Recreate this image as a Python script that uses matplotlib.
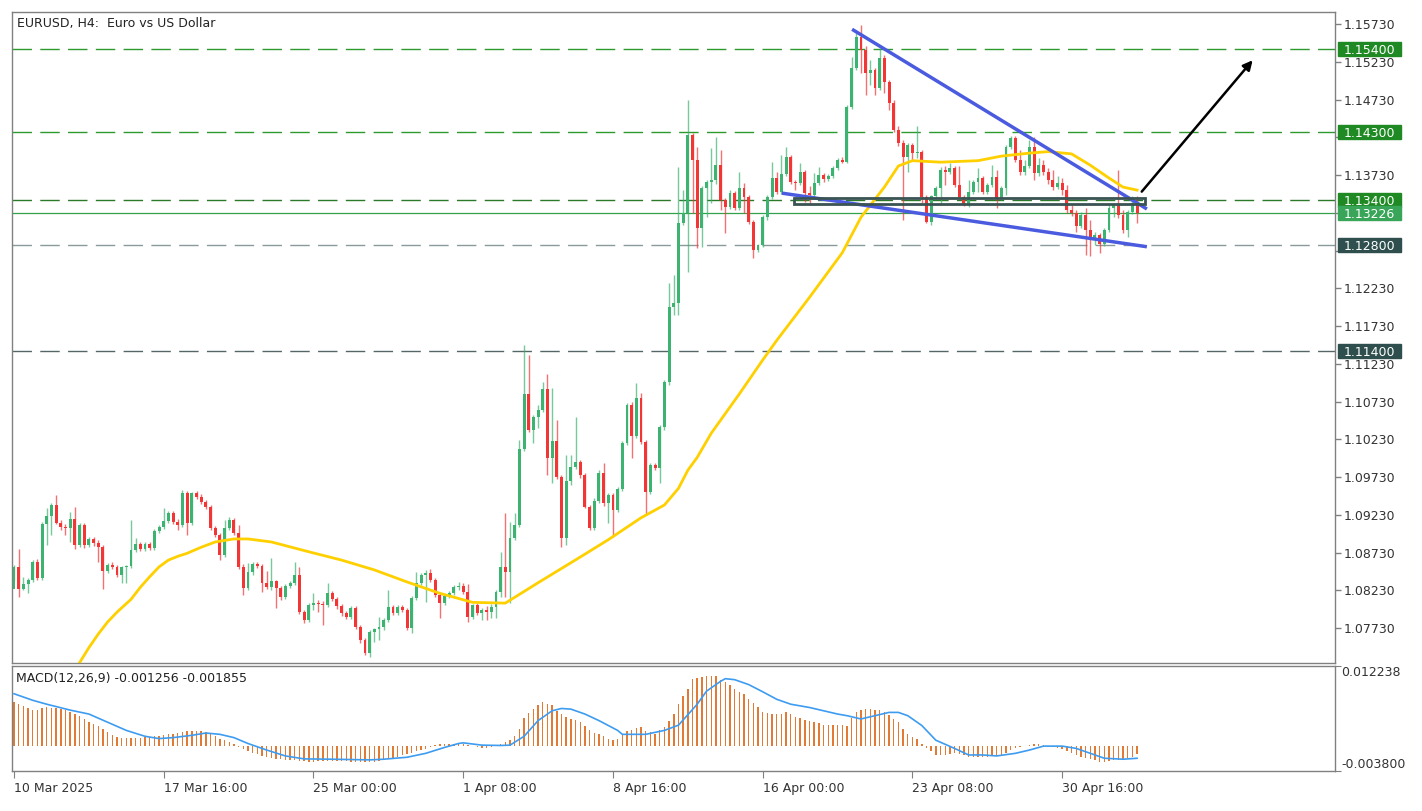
import numpy as np
import matplotlib.pyplot as plt
from matplotlib.patches import Rectangle
from matplotlib.transforms import blended_transform_factory

plt.rcParams['font.family'] = ['DejaVu Sans']

# EURUSD H4 candles, bar 0 = 10 Mar 2025 08:00
opens = [
    1.0825, 1.0854, 1.0825, 1.0831, 1.0837, 1.0860, 1.0839, 1.0911, 1.0921, 1.0936,
    1.0912, 1.0907, 1.0905, 1.0917, 1.0883, 1.0910, 1.0883, 1.0891, 1.0886, 1.0880,
    1.0849, 1.0857, 1.0854, 1.0843, 1.0854, 1.0855, 1.0876, 1.0884, 1.0878, 1.0884,
    1.0879, 1.0901, 1.0907, 1.0915, 1.0925, 1.0913, 1.0910, 1.0952, 1.0912, 1.0952,
    1.0947, 1.0940, 1.0933, 1.0905, 1.0896, 1.0870, 1.0905, 1.0916, 1.0899, 1.0854,
    1.0826, 1.0847, 1.0858, 1.0855, 1.0833, 1.0827, 1.0835, 1.0826, 1.0814, 1.0829,
    1.0833, 1.0843, 1.0794, 1.0784, 1.0803, 1.0806, 1.0805, 1.0803, 1.0819, 1.0811,
    1.0802, 1.0793, 1.0788, 1.0800, 1.0774, 1.0757, 1.0740, 1.0768, 1.0772, 1.0774,
    1.0784, 1.0801, 1.0793, 1.0801, 1.0797, 1.0773, 1.0813, 1.0833, 1.0843, 1.0846,
    1.0837, 1.0817, 1.0806, 1.0815, 1.0819, 1.0827, 1.0829, 1.0821, 1.0788, 1.0803,
    1.0793, 1.0797, 1.0794, 1.0801, 1.0821, 1.0854, 1.0847, 1.0892, 1.0910, 1.1010,
    1.1083, 1.1035, 1.1052, 1.1062, 1.1090, 1.0998, 1.1021, 1.0973, 1.0892, 1.0968,
    1.0986, 1.0993, 1.0976, 1.0933, 1.0905, 1.0941, 1.0978, 1.0939, 1.0949, 1.0929,
    1.0957, 1.1018, 1.1068, 1.1027, 1.1078, 1.1019, 1.0953, 1.0989, 1.0985, 1.1039,
    1.1099, 1.1198, 1.1203, 1.1309, 1.1323, 1.1426, 1.1393, 1.1303, 1.1356, 1.1364,
    1.1366, 1.1386, 1.1340, 1.1331, 1.1349, 1.1329, 1.1356, 1.1344, 1.1311, 1.1274,
    1.1280, 1.1317, 1.1344, 1.1369, 1.1351, 1.1374, 1.1397, 1.1364, 1.1362, 1.1377,
    1.1349, 1.1347, 1.1362, 1.1373, 1.1368, 1.1372, 1.1382, 1.1393, 1.1390, 1.1463,
    1.1515, 1.1556, 1.1539, 1.1508, 1.1512, 1.1488, 1.1528, 1.1496, 1.1468, 1.1433,
    1.1415, 1.1397, 1.1413, 1.1402, 1.1404, 1.1344, 1.1311, 1.1345, 1.1356, 1.1380,
    1.1377, 1.1382, 1.1360, 1.1344, 1.1333, 1.1351, 1.1364, 1.1369, 1.1351, 1.1360,
    1.1370, 1.1343, 1.1356, 1.1410, 1.1422, 1.1393, 1.1377, 1.1385, 1.1410, 1.1376,
    1.1386, 1.1377, 1.1366, 1.1357, 1.1362, 1.1353, 1.1327, 1.1323, 1.1305, 1.1320,
    1.1300, 1.1287, 1.1294, 1.1282, 1.1300, 1.1329, 1.1333, 1.1320, 1.1300, 1.1324,
    1.1336,
]
highs = [
    1.0857, 1.0878, 1.0841, 1.0839, 1.0863, 1.0864, 1.0913, 1.0932, 1.0939, 1.0949,
    1.0916, 1.0911, 1.0927, 1.0933, 1.0912, 1.0912, 1.0894, 1.0894, 1.0890, 1.0883,
    1.0859, 1.0860, 1.0857, 1.0855, 1.0857, 1.0916, 1.0892, 1.0887, 1.0887, 1.0887,
    1.0904, 1.0910, 1.0932, 1.0928, 1.0928, 1.0917, 1.0956, 1.0954, 1.0953, 1.0954,
    1.0951, 1.0943, 1.0936, 1.0908, 1.0899, 1.0916, 1.0920, 1.0919, 1.0910, 1.0858,
    1.0859, 1.0860, 1.0860, 1.0858, 1.0849, 1.0866, 1.0837, 1.0829, 1.0831, 1.0835,
    1.0860, 1.0854, 1.0797, 1.0806, 1.0819, 1.0810, 1.0809, 1.0833, 1.0822, 1.0814,
    1.0805, 1.0796, 1.0802, 1.0802, 1.0777, 1.0760, 1.0770, 1.0773, 1.0788, 1.0786,
    1.0823, 1.0803, 1.0803, 1.0803, 1.0800, 1.0815, 1.0847, 1.0846, 1.0850, 1.0851,
    1.0839, 1.0819, 1.0818, 1.0822, 1.0830, 1.0834, 1.0833, 1.0831, 1.0805, 1.0806,
    1.0800, 1.0802, 1.0805, 1.0823, 1.0874, 1.0925, 1.0913, 1.0925, 1.1022, 1.1148,
    1.1135, 1.1055, 1.1068, 1.1099, 1.1109, 1.1091, 1.1049, 1.0976, 1.1002, 1.1002,
    1.1052, 1.0996, 1.0978, 1.0936, 1.0945, 1.0982, 1.0992, 1.0952, 1.0952, 1.0960,
    1.1021, 1.1071, 1.1072, 1.1098, 1.1084, 1.1022, 1.0992, 1.0992, 1.1042, 1.1102,
    1.1230, 1.1241, 1.1384, 1.1353, 1.1472, 1.1429, 1.1410, 1.1358, 1.1366, 1.1409,
    1.1423, 1.1406, 1.1343, 1.1353, 1.1352, 1.1377, 1.1362, 1.1347, 1.1313, 1.1282,
    1.1320, 1.1347, 1.1390, 1.1377, 1.1400, 1.1410, 1.1400, 1.1366, 1.1389, 1.1380,
    1.1358, 1.1376, 1.1384, 1.1376, 1.1374, 1.1385, 1.1396, 1.1397, 1.1466, 1.1529,
    1.1562, 1.1572, 1.1544, 1.1525, 1.1515, 1.1541, 1.1532, 1.1499, 1.1472, 1.1438,
    1.1419, 1.1415, 1.1415, 1.1438, 1.1406, 1.1347, 1.1347, 1.1358, 1.1384, 1.1385,
    1.1389, 1.1385, 1.1385, 1.1347, 1.1366, 1.1366, 1.1382, 1.1372, 1.1362, 1.1386,
    1.1380, 1.1358, 1.1413, 1.1425, 1.1425, 1.1406, 1.1393, 1.1419, 1.1423, 1.1396,
    1.1393, 1.1382, 1.1380, 1.1372, 1.1369, 1.1360, 1.1333, 1.1327, 1.1324, 1.1329,
    1.1313, 1.1298, 1.1296, 1.1303, 1.1333, 1.1336, 1.1380, 1.1327, 1.1327, 1.1345,
    1.1345,
]
lows = [
    1.0835, 1.0814, 1.0823, 1.0819, 1.0834, 1.0837, 1.0837, 1.0883, 1.0896, 1.0911,
    1.0903, 1.0896, 1.0887, 1.0878, 1.0880, 1.0879, 1.0880, 1.0882, 1.0860, 1.0825,
    1.0846, 1.0851, 1.0841, 1.0833, 1.0833, 1.0852, 1.0874, 1.0875, 1.0875, 1.0876,
    1.0876, 1.0899, 1.0904, 1.0912, 1.0911, 1.0903, 1.0907, 1.0896, 1.0910, 1.0944,
    1.0937, 1.0931, 1.0903, 1.0894, 1.0863, 1.0867, 1.0903, 1.0896, 1.0851, 1.0817,
    1.0823, 1.0843, 1.0852, 1.0821, 1.0825, 1.0823, 1.0800, 1.0810, 1.0811, 1.0826,
    1.0830, 1.0792, 1.0780, 1.0781, 1.0797, 1.0794, 1.0777, 1.0801, 1.0809, 1.0798,
    1.0789, 1.0785, 1.0785, 1.0772, 1.0753, 1.0737, 1.0735, 1.0754, 1.0757, 1.0770,
    1.0781, 1.0790, 1.0790, 1.0794, 1.0770, 1.0766, 1.0810, 1.0830, 1.0807, 1.0834,
    1.0814, 1.0786, 1.0803, 1.0813, 1.0817, 1.0823, 1.0818, 1.0781, 1.0785, 1.0790,
    1.0784, 1.0784, 1.0786, 1.0786, 1.0814, 1.0814, 1.0806, 1.0890, 1.0907, 1.1007,
    1.1033, 1.1018, 1.1038, 1.1059, 1.0976, 1.0965, 1.0970, 1.0880, 1.0883, 1.0962,
    1.0984, 1.0972, 1.0932, 1.0903, 1.0903, 1.0939, 1.0935, 1.0912, 1.0894, 1.0927,
    1.0955, 1.1015, 1.0998, 1.1025, 1.1017, 1.0923, 1.0951, 1.0982, 1.0965, 1.1035,
    1.1095, 1.1188, 1.1188, 1.1307, 1.1245, 1.1323, 1.1276, 1.1278, 1.1317, 1.1336,
    1.1361, 1.1327, 1.1296, 1.1328, 1.1327, 1.1327, 1.1323, 1.1308, 1.1263, 1.1271,
    1.1278, 1.1313, 1.1341, 1.1348, 1.1348, 1.1372, 1.1361, 1.1353, 1.1360, 1.1337,
    1.1333, 1.1344, 1.1360, 1.1364, 1.1365, 1.1369, 1.1380, 1.1389, 1.1389, 1.1460,
    1.1512, 1.1508, 1.1479, 1.1492, 1.1479, 1.1486, 1.1482, 1.1459, 1.1430, 1.1411,
    1.1313, 1.1377, 1.1393, 1.1396, 1.1336, 1.1309, 1.1307, 1.1341, 1.1333, 1.1360,
    1.1374, 1.1357, 1.1341, 1.1332, 1.1331, 1.1348, 1.1351, 1.1348, 1.1348, 1.1357,
    1.1329, 1.1340, 1.1347, 1.1407, 1.1390, 1.1373, 1.1373, 1.1382, 1.1366, 1.1372,
    1.1373, 1.1361, 1.1353, 1.1354, 1.1347, 1.1323, 1.1319, 1.1298, 1.1303, 1.1267,
    1.1266, 1.1280, 1.1270, 1.1279, 1.1298, 1.1317, 1.1316, 1.1296, 1.1291, 1.1321,
    1.1309,
]
closes = [
    1.0854, 1.0825, 1.0831, 1.0837, 1.0860, 1.0839, 1.0911, 1.0921, 1.0936, 1.0912,
    1.0907, 1.0905, 1.0917, 1.0883, 1.0910, 1.0883, 1.0891, 1.0886, 1.0880, 1.0849,
    1.0857, 1.0854, 1.0843, 1.0854, 1.0855, 1.0876, 1.0884, 1.0878, 1.0884, 1.0879,
    1.0901, 1.0907, 1.0915, 1.0925, 1.0913, 1.0910, 1.0952, 1.0912, 1.0952, 1.0947,
    1.0940, 1.0933, 1.0905, 1.0896, 1.0870, 1.0905, 1.0916, 1.0899, 1.0854, 1.0826,
    1.0847, 1.0858, 1.0855, 1.0833, 1.0827, 1.0835, 1.0826, 1.0814, 1.0829, 1.0833,
    1.0843, 1.0794, 1.0784, 1.0803, 1.0806, 1.0805, 1.0803, 1.0819, 1.0811, 1.0802,
    1.0793, 1.0788, 1.0800, 1.0774, 1.0757, 1.0740, 1.0768, 1.0772, 1.0774, 1.0784,
    1.0801, 1.0793, 1.0801, 1.0797, 1.0773, 1.0813, 1.0833, 1.0843, 1.0846, 1.0837,
    1.0817, 1.0806, 1.0815, 1.0819, 1.0827, 1.0829, 1.0821, 1.0788, 1.0803, 1.0793,
    1.0797, 1.0794, 1.0801, 1.0821, 1.0854, 1.0847, 1.0892, 1.0910, 1.1010, 1.1083,
    1.1035, 1.1052, 1.1062, 1.1090, 1.0998, 1.1021, 1.0973, 1.0892, 1.0968, 1.0986,
    1.0993, 1.0976, 1.0933, 1.0905, 1.0941, 1.0978, 1.0939, 1.0949, 1.0929, 1.0957,
    1.1018, 1.1068, 1.1027, 1.1078, 1.1019, 1.0953, 1.0989, 1.0985, 1.1039, 1.1099,
    1.1198, 1.1203, 1.1309, 1.1323, 1.1426, 1.1393, 1.1303, 1.1356, 1.1364, 1.1366,
    1.1386, 1.1340, 1.1331, 1.1349, 1.1329, 1.1356, 1.1344, 1.1311, 1.1274, 1.1280,
    1.1317, 1.1344, 1.1369, 1.1351, 1.1374, 1.1397, 1.1364, 1.1362, 1.1377, 1.1349,
    1.1347, 1.1362, 1.1373, 1.1368, 1.1372, 1.1382, 1.1393, 1.1390, 1.1463, 1.1515,
    1.1556, 1.1539, 1.1508, 1.1512, 1.1488, 1.1528, 1.1496, 1.1468, 1.1433, 1.1415,
    1.1397, 1.1413, 1.1402, 1.1404, 1.1344, 1.1311, 1.1345, 1.1356, 1.1380, 1.1377,
    1.1382, 1.1360, 1.1344, 1.1333, 1.1351, 1.1364, 1.1369, 1.1351, 1.1360, 1.1370,
    1.1343, 1.1356, 1.1410, 1.1422, 1.1393, 1.1377, 1.1385, 1.1410, 1.1376, 1.1386,
    1.1377, 1.1366, 1.1357, 1.1362, 1.1353, 1.1327, 1.1323, 1.1305, 1.1320, 1.1300,
    1.1287, 1.1294, 1.1282, 1.1300, 1.1329, 1.1333, 1.1320, 1.1300, 1.1324, 1.1336,
    1.13226,
]

# yellow moving average, sampled along the drawn line (bar index, price)
ma_bars = [14, 16, 18, 20, 22, 25, 27, 29, 31, 33, 35, 37, 40, 43, 47, 50, 55, 63, 70,
           77, 84, 91, 98, 105, 112, 121, 127, 134, 139, 142, 144, 146, 149, 155, 160,
           163, 170, 177, 181, 186, 189, 192, 198, 206, 211, 217, 221, 226, 230, 234,
           237, 240]
ma_vals = [1.0727, 1.0747, 1.0765, 1.0781, 1.0794, 1.0811, 1.0827, 1.0841, 1.0854,
           1.0863, 1.0868, 1.0872, 1.0880, 1.0887, 1.0891, 1.0891, 1.0887, 1.0874,
           1.0863, 1.0850, 1.0834, 1.0819, 1.0807, 1.0806, 1.0833, 1.0867, 1.0890,
           1.0919, 1.0936, 1.0958, 1.0982, 1.0999, 1.1031, 1.1083, 1.1128, 1.1154,
           1.1211, 1.1270, 1.1317, 1.1357, 1.1385, 1.1392, 1.1390, 1.1392, 1.1398,
           1.1402, 1.1404, 1.1401, 1.1386, 1.1369, 1.1357, 1.1353]

# MACD(12,26,9) main values per bar (histogram)
macd_hist = [
    0.00680, 0.00640, 0.00610, 0.00580, 0.00550, 0.00550, 0.00580, 0.00590, 0.00580, 0.00575,
    0.00565, 0.00550, 0.00515, 0.00490, 0.00455, 0.00420, 0.00370, 0.00335, 0.00300, 0.00260,
    0.00220, 0.00170, 0.00145, 0.00130, 0.00120, 0.00120, 0.00130, 0.00130, 0.00140, 0.00140,
    0.00150, 0.00160, 0.00175, 0.00180, 0.00185, 0.00200, 0.00210, 0.00225, 0.00230, 0.00225,
    0.00225, 0.00210, 0.00180, 0.00150, 0.00115, 0.00090, 0.00065, 0.00030, -0.00020, -0.00050,
    -0.00070, -0.00100, -0.00120, -0.00150, -0.00170, -0.00185, -0.00200, -0.00200, -0.00210, -0.00210,
    -0.00210, -0.00220, -0.00230, -0.00235, -0.00235, -0.00230, -0.00230, -0.00225, -0.00225, -0.00225,
    -0.00230, -0.00230, -0.00235, -0.00235, -0.00240, -0.00245, -0.00245, -0.00235, -0.00225, -0.00210,
    -0.00195, -0.00175, -0.00160, -0.00140, -0.00125, -0.00100, -0.00080, -0.00060, -0.00040, -0.00010,
    0.00015, 0.00035, 0.00040, 0.00030, 0.00040, 0.00040, 0.00030, 0.00020, 0.00000, -0.00020,
    -0.00035, -0.00035, -0.00020, 0.00010, 0.00030, 0.00065, 0.00100, 0.00150, 0.00265, 0.00430,
    0.00500, 0.00565, 0.00630, 0.00680, 0.00650, 0.00630, 0.00540, 0.00490, 0.00440, 0.00415,
    0.00400, 0.00365, 0.00305, 0.00240, 0.00200, 0.00180, 0.00150, 0.00115, 0.00100, 0.00110,
    0.00165, 0.00225, 0.00240, 0.00280, 0.00290, 0.00230, 0.00215, 0.00190, 0.00240, 0.00290,
    0.00380, 0.00490, 0.00640, 0.00765, 0.00880, 0.01030, 0.01040, 0.01060, 0.01065, 0.01065,
    0.01065, 0.01015, 0.00980, 0.00930, 0.00865, 0.00830, 0.00790, 0.00715, 0.00665, 0.00590,
    0.00515, 0.00500, 0.00490, 0.00490, 0.00490, 0.00515, 0.00490, 0.00450, 0.00430, 0.00400,
    0.00390, 0.00365, 0.00350, 0.00330, 0.00315, 0.00315, 0.00315, 0.00315, 0.00310, 0.00430,
    0.00515, 0.00550, 0.00565, 0.00565, 0.00550, 0.00550, 0.00515, 0.00480, 0.00415, 0.00365,
    0.00265, 0.00190, 0.00140, 0.00115, 0.00040, -0.00035, -0.00070, -0.00135, -0.00135, -0.00135,
    -0.00120, -0.00110, -0.00120, -0.00135, -0.00170, -0.00170, -0.00170, -0.00160, -0.00160, -0.00150,
    -0.00150, -0.00135, -0.00100, -0.00060, -0.00025, -0.00020, 0.00000, 0.00010, 0.00030, 0.00030,
    0.00010, -0.00020, -0.00020, -0.00035, -0.00050, -0.00070, -0.00100, -0.00135, -0.00160, -0.00185,
    -0.00200, -0.00210, -0.00235, -0.00235, -0.00220, -0.00210, -0.00210, -0.00200, -0.00185, -0.00160,
    -0.001256,
]
# MACD signal line, sampled along the drawn line
sig_bars = [0, 4, 7, 12, 16, 20, 24, 28, 31, 34, 38, 41, 44, 47, 50, 54, 58, 62, 68, 76,
            79, 84, 88, 92, 95, 96, 100, 104, 106, 109, 112, 115, 117, 119, 122, 125, 129,
            130, 135, 139, 142, 143, 146, 148, 151, 152, 154, 157, 160, 163, 166, 170, 173,
            176, 178, 181, 184, 187, 189, 191, 194, 197, 201, 204, 207, 210, 214, 217, 220,
            224, 227, 230, 233, 237, 240]
sig_vals = [0.0080, 0.0070, 0.0064, 0.0055, 0.0049, 0.00365, 0.0024, 0.0015, 0.00115, 0.0013,
            0.00165, 0.0020, 0.0018, 0.0013, 0.0004, -0.0006, -0.0015, -0.00195, -0.0020, -0.0021,
            -0.0020, -0.0017, -0.0011, -0.0002, 0.0004, 0.0005, 0.00015, 0.0001, 0.00015, 0.0015,
            0.0039, 0.0054, 0.00575, 0.00565, 0.0049, 0.0039, 0.0024, 0.0018, 0.0018, 0.0024,
            0.0032, 0.0040, 0.0064, 0.0084, 0.0099, 0.0103, 0.01015, 0.0094, 0.0083, 0.00715,
            0.0064, 0.0059, 0.0054, 0.0049, 0.00465, 0.00415, 0.00465, 0.00515, 0.00515, 0.00465,
            0.00315, 0.0009, -0.00035, -0.00135, -0.00135, -0.0015, -0.0011, -0.0006, 0.0, 0.0,
            -0.00035, -0.0011, -0.00185, -0.0020, -0.001855]

# horizontal levels and their price boxes
level_prices = [1.15400, 1.14300, 1.13400, 1.12800, 1.11400]
level_line_colors = ['#2c9a2c', '#2c9a2c', '#2a7a2a', '#8a9a9a', '#556666']
level_box_colors = ['#1f8a24', '#1f8a24', '#1f8a24', '#2f4f4f', '#2f4f4f']
bid_price = 1.13226

# drawn objects (bar index, price)
upper_tl = ([179.1, 242.1], [1.1566, 1.1328])
lower_tl = ([164.1, 242.1], [1.1349, 1.1278])
zone_rect = (166.7, 1.1335, 75.0, 0.0008)
arrow_from = (241.0, 1.1351)
arrow_to = (264.7, 1.1525)

date_bars = [0, 32, 64, 96, 128, 160, 192, 224]
date_labels = ['10 Mar 2025', '17 Mar 16:00', '25 Mar 00:00', '1 Apr 08:00',
               '8 Apr 16:00', '16 Apr 00:00', '23 Apr 08:00', '30 Apr 16:00']

x = np.arange(len(closes))
o, h, l, c = map(np.array, (opens, highs, lows, closes))

fig = plt.figure(figsize=(14.22, 8.11), dpi=100)
ax = fig.add_axes([12 / 1422, 1 - 663 / 811, 1323 / 1422, 651 / 811])
ax2 = fig.add_axes([12 / 1422, 1 - 771 / 811, 1323 / 1422, 105 / 811])

# candles
up = c >= o
for mask, col in ((up, '#3cb371'), (~up, '#f23535')):
    ax.vlines(x[mask], l[mask], h[mask], color=col, lw=1, alpha=0.7, zorder=2)
    ax.bar(x[mask], np.maximum(np.abs(c - o), 0.00005)[mask],
           bottom=np.minimum(o, c)[mask], width=0.62, color=col, zorder=3)

ax.plot(ma_bars, ma_vals, color='#ffd000', lw=2, zorder=4)

for price, col in zip(level_prices, level_line_colors):
    ax.axhline(price, color=col, lw=1, dashes=(14, 6), zorder=1)
ax.axhline(bid_price, color='#33a04a', lw=0.9, zorder=1)

ax.plot(*upper_tl, color='#4a5be0', lw=2.5, zorder=5, solid_capstyle='butt')
ax.plot(*lower_tl, color='#4a5be0', lw=2.5, zorder=5, solid_capstyle='butt')
ax.add_patch(Rectangle(zone_rect[:2], zone_rect[2], zone_rect[3], fill=False,
                       ec='#3a5353', lw=2, zorder=6))
ax.annotate('', xy=arrow_to, xytext=arrow_from,
            arrowprops=dict(arrowstyle='-|>', color='black', lw=1.8, mutation_scale=14,
                            shrinkA=0, shrinkB=0), zorder=7)

ax.set_xlim(-0.43, 282.3)
ax.set_ylim(1.07267, 1.15889)
price_ticks = np.round(np.arange(1.07730, 1.1580, 0.005), 5)
# ticks sitting under a price box keep their mark but not their text
hidden = {1.1423, 1.1273}
ax.yaxis.tick_right()
ax.set_yticks(price_ticks)
ax.set_yticklabels(['' if round(t, 4) in hidden else f'{t:.5f}' for t in price_ticks])
ax.tick_params(axis='y', direction='out', length=4, width=1, colors='#808080',
               labelcolor='#333333', labelsize=9, pad=2)
ax.tick_params(axis='x', bottom=False, labelbottom=False)

trans = blended_transform_factory(ax.transAxes, ax.transData)
box_h = 0.00186
for price, col in zip(level_prices + [bid_price],
                      level_box_colors + ['#38a558']):
    ax.add_patch(Rectangle((1.0023, price - box_h / 2), 0.0476, box_h, transform=trans,
                           color=col, clip_on=False, zorder=10))
    ax.text(1.0263, price, f'{price:.5f}', transform=trans, color='white', fontsize=9,
            ha='center', va='center_baseline', zorder=11, clip_on=False)

ax.text(0.0038, 0.993, 'EURUSD, H4:  Euro vs US Dollar', transform=ax.transAxes,
        va='top', ha='left', fontsize=9, color='#222222')

# MACD panel
ax2.bar(x, macd_hist, width=0.3, color='#e07a35', zorder=2)
ax2.plot(sig_bars, sig_vals, color='#3d9cf0', lw=1.2, zorder=3)
ax2.set_xlim(-0.43, 282.3)
ax2.set_ylim(-0.0038, 0.012238)
ax2.yaxis.tick_right()
ax2.set_yticks([-0.0038, 0.012238])
ax2.set_yticklabels(['', ''])
ax2.tick_params(axis='y', direction='out', length=4, colors='#808080')
trans2 = blended_transform_factory(ax2.transAxes, ax2.transData)
ax2.text(1.0045, 0.012238, '0.012238', transform=trans2, va='top', fontsize=9,
         color='#333333')
ax2.text(1.0045, -0.0038, '-0.003800', transform=trans2, va='bottom', fontsize=9,
         color='#333333')
ax2.text(0.003, 0.94, 'MACD(12,26,9) -0.001256 -0.001855', transform=ax2.transAxes,
         va='top', ha='left', fontsize=9, color='#222222')

ax2.set_xticks(date_bars)
ax2.set_xticklabels(date_labels, ha='left')
ax2.tick_params(axis='x', direction='out', length=5, colors='#808080',
                labelcolor='#333333', labelsize=9, pad=3)

for a in (ax, ax2):
    for sp in a.spines.values():
        sp.set_color('#808080')
        sp.set_linewidth(1)

fig.savefig('out.png', dpi=100)
